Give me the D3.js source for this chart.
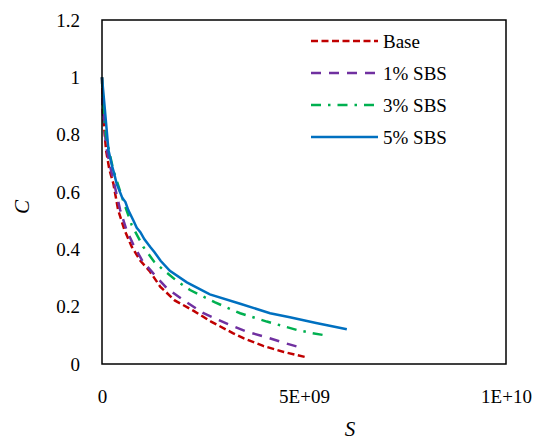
<!DOCTYPE html>
<html lang="en">
<head>
    <meta charset="UTF-8">
    <title>C vs S</title>
    <script src="https://d3js.org/d3.v7.min.js"></script>
    <style>
        body { margin: 0; background: #fff; }
        .line { fill: none; stroke-width: 2.5px; }
        svg text { font-family: "Times New Roman", Times, "Liberation Serif", "DejaVu Serif", "Noto Serif", serif; }
    </style>
</head>
<body>
<svg width="544" height="443"></svg>
<script>
    // S values in units of 1E+09
    const baseS = [0, 0.02, 0.1, 0.18, 0.28, 0.4, 0.55, 0.735, 0.95, 1.19, 1.44, 1.8, 2.26, 2.7, 3.25, 3.5, 3.99, 4.5, 5.07];
    const baseC = [1, 0.88, 0.746, 0.68, 0.63, 0.537, 0.47, 0.409, 0.36, 0.322, 0.27, 0.222, 0.186, 0.148, 0.107, 0.09, 0.063, 0.042, 0.023];

    const sbs1S = [0, 0.02, 0.1, 0.2, 0.3, 0.45, 0.6, 0.78, 1.0, 1.27, 1.6, 2.01, 2.5, 3.17, 3.6, 4.08, 4.55, 4.98];
    const sbs1C = [1, 0.9, 0.76, 0.69, 0.63, 0.537, 0.47, 0.415, 0.36, 0.316, 0.265, 0.223, 0.178, 0.136, 0.112, 0.093, 0.072, 0.055];

    const sbs3S = [0, 0.02, 0.1, 0.18, 0.28, 0.49, 0.735, 1.02, 1.29, 1.52, 1.85, 2.18, 2.8, 3.42, 4.08, 4.82, 5.2, 5.56];
    const sbs3C = [1, 0.92, 0.8, 0.74, 0.677, 0.584, 0.485, 0.409, 0.357, 0.328, 0.29, 0.258, 0.215, 0.177, 0.148, 0.119, 0.108, 0.099];

    const sbs5S = [0, 0.05, 0.16, 0.25, 0.3, 0.36, 0.5, 0.58, 0.65, 0.78, 0.86, 0.95, 1.05, 1.19, 1.3, 1.45, 1.68, 2.1, 2.67, 3.42, 4.16, 4.65, 5.3, 6.06];
    const sbs5C = [1, 0.921, 0.746, 0.69, 0.665, 0.63, 0.58, 0.565, 0.537, 0.5, 0.475, 0.46, 0.435, 0.409, 0.39, 0.36, 0.325, 0.285, 0.243, 0.21, 0.177, 0.163, 0.143, 0.121];

    const seriesNames = ["Base", "1% SBS", "3% SBS", "5% SBS"];
    const xTicks = [0, 5e9, 1e10];
    const xTickLabels = ["0", "5E+09", "1E+10"];
    const yTicks = [0, 0.2, 0.4, 0.6, 0.8, 1, 1.2];

    const series = [
        {name: seriesNames[0], s: baseS, c: baseC, color: "#C00000", dash: "7,3.5"},
        {name: seriesNames[1], s: sbs1S, c: sbs1C, color: "#7030A0", dash: "10,8"},
        {name: seriesNames[2], s: sbs3S, c: sbs3C, color: "#00B050", dash: "10,7,2.5,7"},
        {name: seriesNames[3], s: sbs5S, c: sbs5C, color: "#0070C0", dash: null}
    ];

    const margin = {top: 20, right: 38, bottom: 79, left: 102},
        width = 544 - margin.left - margin.right,
        height = 443 - margin.top - margin.bottom;

    const x = d3.scaleLinear().domain([0, 1e10]).range([0, width]);
    const y = d3.scaleLinear().domain([0, 1.2]).range([height, 0]);

    const svg = d3.select("svg")
        .append("g")
        .attr("transform", "translate(" + margin.left + "," + margin.top + ")");

    const line = d3.line()
        .x(d => x(d[0] * 1e9))
        .y(d => y(d[1]));

    // curves
    series.forEach(sr => {
        svg.append("path")
            .attr("class", "line")
            .attr("d", line(sr.s.map((v, i) => [v, sr.c[i]])))
            .attr("stroke", sr.color)
            .attr("stroke-dasharray", sr.dash);
    });

    // plot frame
    svg.append("rect")
        .attr("width", width)
        .attr("height", height)
        .attr("fill", "none")
        .attr("stroke", "#000")
        .attr("stroke-width", 1.5);

    // x axis labels (no tick marks)
    const xAxis = svg.append("g")
        .attr("transform", "translate(0," + height + ")")
        .call(d3.axisBottom(x).tickValues(xTicks).tickSize(0).tickPadding(26)
            .tickFormat((d, i) => xTickLabels[i]));
    xAxis.select(".domain").remove();

    // y axis labels
    const yAxis = svg.append("g")
        .call(d3.axisLeft(y).tickValues(yTicks).tickSize(0).tickPadding(22)
            .tickFormat(d3.format("")));
    yAxis.select(".domain").remove();

    xAxis.attr("font-family", null).attr("font-size", null);
    yAxis.attr("font-family", null).attr("font-size", null);
    svg.selectAll(".tick text").style("font-size", "19px").attr("fill", "#000");

    // axis titles
    svg.append("text")
        .attr("x", 248)
        .attr("y", height + 72)
        .attr("text-anchor", "middle")
        .style("font-size", "21px")
        .style("font-style", "italic")
        .text("S");

    svg.append("text")
        .attr("transform", "translate(-73," + (height / 2 + 15) + ") rotate(-90)")
        .attr("text-anchor", "middle")
        .style("font-size", "21px")
        .style("font-style", "italic")
        .text("C");

    // legend
    const legend = svg.append("g").attr("transform", "translate(209,21)");
    series.forEach((sr, i) => {
        const row = legend.append("g").attr("transform", "translate(0," + (i * 32) + ")");
        row.append("line")
            .attr("x1", 0).attr("x2", 67)
            .attr("stroke", sr.color)
            .attr("stroke-width", 2.5)
            .attr("stroke-dasharray", sr.dash);
        row.append("text")
            .attr("x", 72)
            .attr("y", 6.5)
            .style("font-size", "19px")
            .text(sr.name);
    });
</script>
</body>
</html>
